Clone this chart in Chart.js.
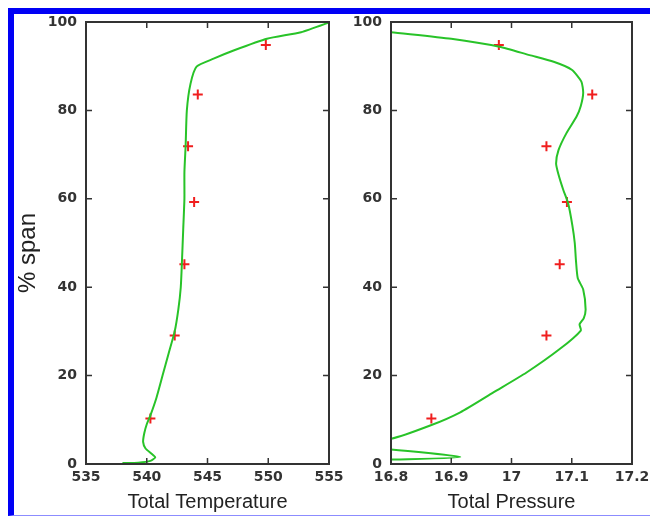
<!DOCTYPE html>
<html>
<head>
<meta charset="utf-8">
<script src="https://cdn.jsdelivr.net/npm/chart.js@4/dist/chart.umd.min.js"></script>
<style>
    html, body { margin: 0; padding: 0; background: #ffffff; }
    body { width: 650px; height: 516px; position: relative; overflow: hidden; }
    .panel { position: absolute; top: 0; height: 516px; }
    #left-panel { left: 0; width: 345px; }
    #right-panel { left: 340px; width: 310px; }
    #frame {
        position: absolute; left: 8px; top: 8px; width: 660px; height: 508px;
        box-sizing: border-box;
        border-top: 6px solid #0000f5;
        border-left: 6px solid #0000f5;
        border-bottom: 1px solid #8c8cff;
        pointer-events: none;
    }
</style>
</head>
<body>
<div class="panel" id="left-panel"><canvas id="temp-chart" width="345" height="516"></canvas></div>
<div class="panel" id="right-panel"><canvas id="press-chart" width="310" height="516"></canvas></div>
<div id="frame"></div>

<script>
// Span ticks shared by both panels
const spanTicks = [0, 20, 40, 60, 80, 100];

// Total temperature panel
const tempTicks = [535, 540, 545, 550, 555];
const tempCurve = [538.0, 539.3, 540.3, 540.7, 540.4, 539.9, 539.7, 539.8, 540.0, 540.3, 540.8, 541.3, 541.8, 542.3, 542.6, 542.8, 542.9, 543.0, 543.1, 543.1, 543.2, 543.3, 543.6, 544.1, 545.5, 547.2, 549.9, 552.7, 554.8, 555.0];
const tempCurveSpan = [0.2, 0.3, 0.7, 1.5, 2.3, 3.5, 5, 7, 9, 11, 15, 20, 25, 30, 35, 40, 46, 53, 60, 66, 72, 80, 86, 89.9, 91.7, 93.6, 96.2, 97.7, 99.7, 100];

// Total pressure panel
const pressTicks = [16.8, 16.9, 17.0, 17.1, 17.2];
const pressCurve = [16.70, 16.80, 16.90, 16.98, 17.03, 17.07, 17.10, 17.116, 17.119, 17.115, 17.108, 17.091, 17.078, 17.074, 17.078, 17.086, 17.094, 17.101, 17.105, 17.107, 17.110, 17.119, 17.123, 17.120, 17.113, 17.115, 17.080, 17.025, 16.970, 16.915, 16.865, 16.800, 16.70, 16.70, 16.80, 16.915, 16.80, 16.70];
const pressCurveSpan = [99.3, 97.7, 96.2, 94.4, 92.5, 91.0, 89.2, 86.5, 84.0, 81.0, 78.6, 74.8, 71.0, 68.0, 65.5, 62.0, 59.0, 54.0, 50.0, 46.0, 42.0, 39.5, 35.0, 33.0, 31.6, 30.2, 26.0, 20.7, 16.2, 11.7, 8.7, 5.7, 4.2, 3.9, 3.3, 1.6, 1.0, 0.9];

// Measured points (red crosses)
const markerSpan = [94.8, 83.6, 71.9, 59.3, 45.2, 29.1, 10.3];
const markerTemp = [549.8, 544.2, 543.4, 543.9, 543.1, 542.3, 540.3];
const markerPress = [16.979, 17.134, 17.058, 17.092, 17.080, 17.058, 16.867];

const axisColor = '#333333';
const lineGreen = 'rgb(40, 195, 40)';
const markRed = 'rgb(240, 30, 30)';

Chart.defaults.font.family = 'DejaVu Sans';

// Draw the box round the plot and inward tick marks
const boxPlugin = {
    id: 'box',
    afterDraw(chart) {
        const { ctx, chartArea: a, scales } = chart;
        const len = 6;
        ctx.save();
        ctx.strokeStyle = axisColor;
        ctx.lineWidth = 1.5;
        scales.x.ticks.forEach(t => {
            const px = scales.x.getPixelForValue(t.value);
            ctx.beginPath();
            ctx.moveTo(px, a.bottom); ctx.lineTo(px, a.bottom - len);
            ctx.moveTo(px, a.top); ctx.lineTo(px, a.top + len);
            ctx.stroke();
        });
        scales.y.ticks.forEach(t => {
            const py = scales.y.getPixelForValue(t.value);
            ctx.beginPath();
            ctx.moveTo(a.left, py); ctx.lineTo(a.left + len, py);
            ctx.moveTo(a.right, py); ctx.lineTo(a.right - len, py);
            ctx.stroke();
        });
        ctx.lineWidth = 2;
        ctx.strokeRect(a.left, a.top, a.right - a.left, a.bottom - a.top);
        ctx.restore();
    }
};

function makePanel(canvasId, curveX, curveY, markX, ticksX, xTitle, yWidth, padRight, showYTitle) {
    const ctx = document.getElementById(canvasId);
    return new Chart(ctx, {
        type: 'scatter',
        data: {
            datasets: [
                {
                    data: curveX.map((v, i) => ({ x: v, y: curveY[i] })),
                    showLine: true,
                    borderColor: lineGreen,
                    borderWidth: 2,
                    pointRadius: 0,
                    tension: 0.2,
                    clip: 0
                },
                {
                    data: markX.map((v, i) => ({ x: v, y: markerSpan[i] })),
                    pointStyle: 'cross',
                    pointRadius: 5,
                    borderColor: markRed,
                    backgroundColor: markRed,
                    pointBorderWidth: 2
                }
            ]
        },
        options: {
            responsive: false,
            animation: false,
            layout: {
                autoPadding: false,
                padding: { top: 22, right: padRight, left: 0, bottom: 0 }
            },
            plugins: {
                legend: { display: false },
                tooltip: { enabled: false }
            },
            scales: {
                x: {
                    type: 'linear',
                    min: ticksX[0],
                    max: ticksX[ticksX.length - 1],
                    afterBuildTicks: scale => { scale.ticks = ticksX.map(v => ({ value: v })); },
                    afterFit: scale => {
                        scale.height = 52;
                        // the end labels may spill past the plot edges
                        scale.paddingLeft = 0;
                        scale.paddingRight = 0;
                    },
                    grid: { display: false, drawTicks: false },
                    border: { display: false },
                    ticks: {
                        padding: 5,
                        color: axisColor,
                        font: { size: 14, weight: 'bold' },
                        maxRotation: 0,
                        callback: v => String(Number(v.toFixed(1)))
                    },
                    title: {
                        display: true,
                        text: xTitle,
                        color: '#222222',
                        font: { family: 'Liberation Sans', size: 20 },
                        padding: { top: 0, bottom: 2 }
                    }
                },
                y: {
                    type: 'linear',
                    min: 0,
                    max: 100,
                    afterBuildTicks: scale => { scale.ticks = spanTicks.map(v => ({ value: v })); },
                    afterFit: scale => { scale.width = yWidth; },
                    grid: { display: false, drawTicks: false },
                    border: { display: false },
                    ticks: {
                        padding: 9,
                        color: axisColor,
                        font: { size: 14, weight: 'bold' }
                    },
                    title: {
                        display: showYTitle,
                        // trailing spaces nudge the centred title down a little
                        text: '% span   ',
                        color: '#222222',
                        font: { family: 'Liberation Sans', size: 24 },
                        padding: { top: 14, bottom: 0 }
                    }
                }
            }
        },
        plugins: [boxPlugin]
    });
}

makePanel('temp-chart', tempCurve, tempCurveSpan, markerTemp, tempTicks, 'Total Temperature', 86, 16, true);
makePanel('press-chart', pressCurve, pressCurveSpan, markerPress, pressTicks, 'Total Pressure', 51, 18, false);
</script>
</body>
</html>
